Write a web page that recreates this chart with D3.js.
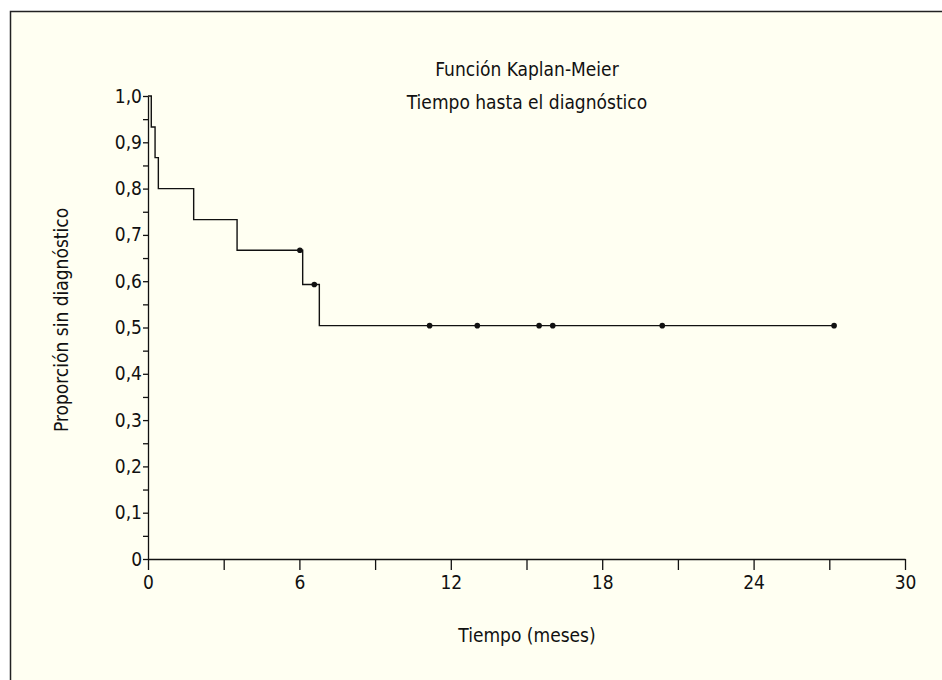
<!DOCTYPE html>
<meta charset="utf-8">
<style>
body { margin: 0; background: #fff; }
svg text { font-family: "Liberation Sans Narrow", "Arial Narrow", "DejaVu Sans Condensed", sans-serif; fill: #111; }
</style>
<script src="https://d3js.org/d3.v7.min.js"></script>
<div id="chart"></div>
<script>
// survival steps: time (months) where the curve drops, and the value after the drop
var stepTimes  = [0, 0.13, 0.28, 0.41, 1.81, 3.53, 6.13, 6.79];
var stepValues = [1.0, 0.933, 0.867, 0.8, 0.733, 0.667, 0.593, 0.504];
// censored observations
var censorTimes  = [6.02, 6.59, 11.16, 13.05, 15.5, 16.04, 20.38, 27.19];
var censorValues = [0.667, 0.593, 0.504, 0.504, 0.504, 0.504, 0.504, 0.504];
var endTime = 27.19;

var xTicks = [0, 3, 6, 9, 12, 15, 18, 21, 24, 27, 30];
var xLabels = [0, 6, 12, 18, 24, 30];
var yTicks = d3.range(0, 1.0001, 0.05);
var yLabels = d3.range(0, 1.0001, 0.1);

var W = 942, H = 680;
var margin = {left: 148, top: 96, right: 37, bottom: 121};
var fs = 19;

var svg = d3.select("#chart").append("svg")
    .attr("width", W).attr("height", H);

svg.append("rect")
    .attr("x", 10.5).attr("y", 11.5)
    .attr("width", W).attr("height", H)
    .attr("fill", "#fffff2")
    .attr("stroke", "#222").attr("stroke-width", 1.5);

var x = d3.scaleLinear().domain([0, 30]).range([margin.left, W - margin.right]);
var y = d3.scaleLinear().domain([0, 1]).range([H - margin.bottom, margin.top]);

var fmt = function(d) { return d === 0 ? "0" : d3.format(".1f")(d).replace(".", ","); };

// x axis
var gx = svg.append("g").attr("transform", "translate(0," + y(0) + ")")
    .call(d3.axisBottom(x).tickValues(xTicks).tickSize(11).tickSizeOuter(0)
        .tickFormat(function(d) { return xLabels.indexOf(d) >= 0 ? d : ""; }));
gx.select(".domain").attr("stroke", "#111").attr("stroke-width", 1.3);
gx.selectAll(".tick line").attr("stroke", "#111").attr("stroke-width", 1.3);
gx.selectAll("text").attr("font-size", fs).attr("y", 13).attr("dy", "0.9em");

// y axis
var gy = svg.append("g").attr("transform", "translate(" + x(0) + ",0)")
    .call(d3.axisLeft(y).tickValues(yTicks).tickSize(5).tickSizeOuter(0)
        .tickFormat(function(d) {
            var hit = yLabels.some(function(v) { return Math.abs(v - d) < 1e-6; });
            return hit ? fmt(Math.round(d * 10) / 10) : "";
        }));
gy.select(".domain").attr("stroke", "#111").attr("stroke-width", 1.3);
gy.selectAll(".tick line").attr("stroke", "#111").attr("stroke-width", 1.3);
gy.selectAll("text").attr("font-size", fs).attr("x", -6);

// step curve
var pts = stepTimes.map(function(t, i) { return [t, stepValues[i]]; });
pts.push([endTime, stepValues[stepValues.length - 1]]);
svg.append("path")
    .datum(pts)
    .attr("fill", "none").attr("stroke", "#111").attr("stroke-width", 1.4)
    .attr("d", d3.line().x(function(d) { return x(d[0]); }).y(function(d) { return y(d[1]); })
        .curve(d3.curveStepAfter));

// censor marks
svg.selectAll("circle.cens")
    .data(censorTimes)
    .enter().append("circle")
    .attr("class", "cens")
    .attr("cx", function(d) { return x(d); })
    .attr("cy", function(d, i) { return y(censorValues[i]); })
    .attr("r", 2.8)
    .attr("fill", "#111");

// titles
svg.append("text").attr("x", 527).attr("y", 76).attr("text-anchor", "middle")
    .attr("font-size", fs).text("Función Kaplan-Meier");
svg.append("text").attr("x", 527).attr("y", 109).attr("text-anchor", "middle")
    .attr("font-size", fs).text("Tiempo hasta el diagnóstico");

svg.append("text").attr("x", 527).attr("y", 642).attr("text-anchor", "middle")
    .attr("font-size", fs).text("Tiempo (meses)");

svg.append("text")
    .attr("transform", "translate(68,320) rotate(-90)")
    .attr("text-anchor", "middle")
    .attr("font-size", fs).text("Proporción sin diagnóstico");
</script>
